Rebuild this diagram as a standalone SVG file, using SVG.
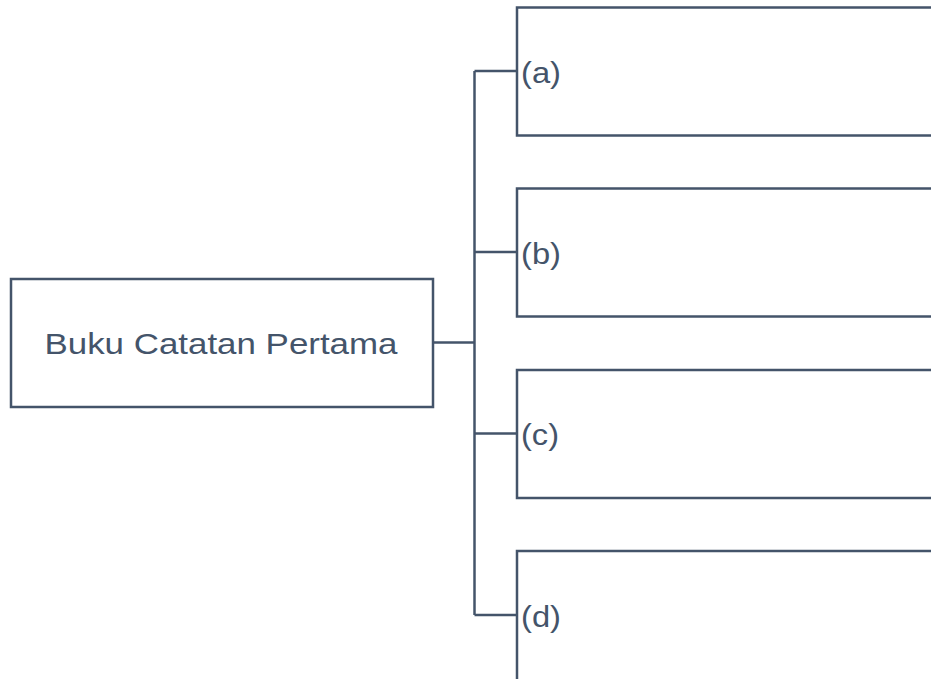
<svg xmlns="http://www.w3.org/2000/svg" width="931" height="679" viewBox="0 0 931 679">
<style>
.box{fill:#ffffff;stroke:#44546A;stroke-width:2.5}
.conn{fill:none;stroke:#44546A;stroke-width:2.5}
.lbl{font-family:"Liberation Sans",Arial,sans-serif;font-size:29px;fill:#44546A}
.main{font-size:30px}
</style>
<rect width="931" height="679" fill="#ffffff"/>
<g id="connectors">
<path class="conn" d="M433 342.5 H474.5"/>
<path class="conn" d="M474.5 71 V615"/>
<path class="conn" d="M474.5 71 H517"/>
<path class="conn" d="M474.5 252 H517"/>
<path class="conn" d="M474.5 433.5 H517"/>
<path class="conn" d="M474.5 615 H517"/>
</g>
<g id="root">
<rect class="box" x="11" y="279" width="422" height="128"/>
<text class="lbl main" x="44.5" y="354" textLength="353" lengthAdjust="spacingAndGlyphs">Buku Catatan Pertama</text>
</g>
<g id="node-a">
<rect class="box" x="517" y="7.5" width="430" height="128"/>
<text class="lbl" x="521" y="83" textLength="40" lengthAdjust="spacingAndGlyphs">(a)</text>
</g>
<g id="node-b">
<rect class="box" x="517" y="188.5" width="430" height="128"/>
<text class="lbl" x="521" y="264" textLength="40" lengthAdjust="spacingAndGlyphs">(b)</text>
</g>
<g id="node-c">
<rect class="box" x="517" y="370" width="430" height="128"/>
<text class="lbl" x="521" y="445" textLength="38" lengthAdjust="spacingAndGlyphs">(c)</text>
</g>
<g id="node-d">
<rect class="box" x="517" y="551" width="430" height="140"/>
<text class="lbl" x="521" y="627" textLength="40" lengthAdjust="spacingAndGlyphs">(d)</text>
</g>
</svg>
